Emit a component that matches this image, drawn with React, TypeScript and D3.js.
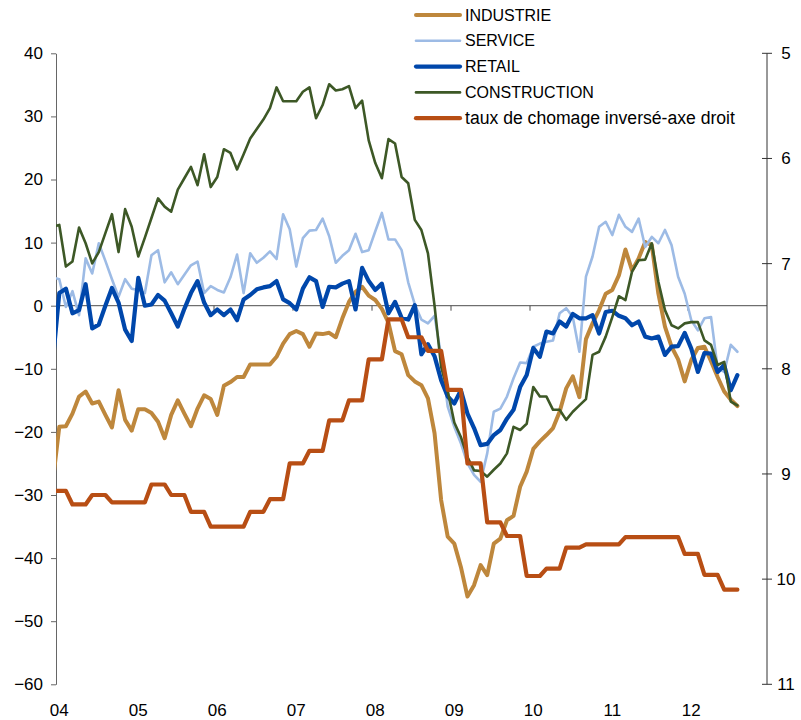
import { useEffect, useRef } from "react";
import * as d3 from "d3";

// monthly points, Dec 2003 (first, clipped at axis) to Aug 2012
const years = ["04", "05", "06", "07", "08", "09", "10", "11", "12"];

const industrie = [
  -28, -19.2, -19.1, -17.1, -14.4, -13.6, -15.5, -15.2, -17.3, -19.3, -13.4, -18.1, -19.8,
  -16.4, -16.4, -17.0, -18.4, -21.0, -17.3, -15.0, -17.1, -19.1, -16.3, -14.2, -14.8,
  -17.3, -12.7, -12.1, -11.3, -11.3, -9.3, -9.3, -9.3, -9.3, -8.1, -6.0, -4.5, -4.0,
  -4.5, -6.5, -4.4, -4.5, -4.3, -5.0, -2.0, 0.6, 2.2, 3.0, 1.6, 0.9, -0.5, -2.7, -7.2,
  -7.7, -11.0, -12.0, -12.6, -14.7, -20.2, -30.8, -36.6, -37.7, -41.4, -46.1, -44.3,
  -41.1, -42.7, -37.7, -36.9, -34.0, -33.3, -28.7, -26.3, -22.7, -21.5, -20.5, -19.4,
  -16.8, -13.1, -11.2, -14.5, -5.3, -2.8, -0.7, 1.9, 2.5, 4.8, 8.9, 5.6, 7.5, 10.1, 9.6,
  1.9, -3.3, -6.5, -8.5, -12.0, -8.6, -6.7, -6.5, -8.8, -11.3, -13.6, -14.9, -15.9,
];

const service = [
  4.5, 4.2, -0.2, 2.3, -1.5, 7.5, 5.1, 9.9, 7.1, 4.2, 1.4, 4.2, 2.7, 2.5, 2.0, 8.0, 8.8,
  3.7, 5.3, 3.4, 4.9, 6.4, 7.0, 2.0, 3.1, 2.5, 2.1, 4.5, 8.1, 2.0, 8.3, 6.8, 7.6, 8.6,
  7.4, 14.5, 12.1, 6.2, 10.7, 11.9, 12.0, 13.8, 11.0, 6.8, 7.9, 8.8, 11.4, 8.5, 8.8,
  11.8, 14.7, 10.5, 10.5, 8.8, 3.7, 0.2, -2.2, -2.8, -1.6, -8.0, -16.0, -19.2, -21.8,
  -25.0, -26.8, -27.9, -23.4, -16.8, -16.3, -14.4, -11.5, -9.0, -9.1, -6.5, -6.0, -5.7,
  -5.5, -1.2, -0.4, -1.8, -7.3, 4.6, 7.8, 12.5, 13.3, 11.2, 14.4, 12.5, 11.7, 13.8, 9.3,
  10.9, 9.9, 12.0, 9.6, 4.6, 1.9, -2.3, -3.9, -2.0, -1.8, -9.9, -10.5, -6.2, -7.3,
];

const retail = [
  -9, 2.0, 2.7, -1.2, -0.7, 3.4, -3.6, -3.0, 0.0, 2.8, 0.5, -3.8, -5.6, 4.4, 0.0, 0.2,
  1.7, 0.8, -1.2, -3.3, -0.5, 2.0, 3.9, 0.5, -1.5, -0.6, -1.5, -0.6, -2.3, 1.0, 1.7, 2.6,
  2.9, 3.1, 3.9, 1.0, 0.4, -0.6, 2.7, 4.5, 3.9, -0.2, 3.0, 2.9, 3.5, 3.9, -0.6, 6.0, 3.9,
  2.5, 3.5, -1.2, 0.6, -1.9, -2.2, 0.1, -7.7, -6.1, -8.0, -11.8, -14.4, -15.5, -13.4,
  -17.1, -19.4, -22.1, -21.9, -20.5, -19.7, -17.9, -16.5, -12.9, -11.0, -6.7, -8.1, -4.1,
  -4.4, -2.5, -3.3, -1.3, -2.0, -2.0, -1.5, -4.4, -1.0, -0.8, -1.6, -2.0, -3.1, -2.5,
  -4.9, -5.2, -4.9, -7.8, -6.5, -6.4, -4.3, -6.8, -10.5, -7.5, -7.6, -10.5, -9.4, -13.4,
  -11.0,
];

const construction = [
  12.5, 12.8, 6.2, 7.0, 12.4, 9.9, 6.7, 8.5, 11.5, 14.5, 8.5, 15.3, 12.5, 7.8, 10.8,
  13.9, 17.0, 15.7, 14.9, 18.4, 20.2, 22.0, 19.1, 24.0, 18.8, 20.4, 24.8, 24.2, 21.6,
  24.0, 26.5, 28.0, 29.5, 31.3, 34.6, 32.4, 32.4, 32.4, 33.9, 34.6, 29.7, 31.8, 35.1,
  34.1, 34.3, 34.8, 31.3, 32.5, 26.2, 22.6, 20.2, 26.4, 25.7, 20.4, 19.4, 13.6, 12.0,
  8.3, 0.0, -9.7, -13.5, -18.5, -20.8, -24.0, -26.1, -26.2, -27.1, -26.0, -25.0, -23.4,
  -19.2, -19.7, -18.7, -12.9, -14.4, -14.4, -16.5, -16.5, -18.1, -16.8, -15.8, -14.8,
  -7.8, -7.3, -4.9, -1.8, 1.5, 0.9, 5.4, 7.2, 7.3, 9.9, 3.8, -0.7, -3.1, -3.6, -2.8,
  -2.6, -2.6, -5.5, -6.2, -9.4, -8.9, -15.2, -15.8,
];

// taux de chomage (%), right axis, inverted
const chomage = [
  9.16, 9.16, 9.16, 9.29, 9.29, 9.29, 9.2, 9.2, 9.2, 9.27, 9.27, 9.27, 9.27, 9.27, 9.27,
  9.1, 9.1, 9.1, 9.2, 9.2, 9.2, 9.36, 9.36, 9.36, 9.5, 9.5, 9.5, 9.5, 9.5, 9.5, 9.36,
  9.36, 9.36, 9.24, 9.24, 9.24, 8.9, 8.9, 8.9, 8.78, 8.78, 8.78, 8.49, 8.49, 8.49, 8.3,
  8.3, 8.3, 7.91, 7.91, 7.91, 7.53, 7.53, 7.53, 7.7, 7.7, 7.7, 7.83, 7.83, 7.83, 8.2,
  8.2, 8.2, 8.9, 8.9, 8.9, 9.46, 9.46, 9.46, 9.59, 9.59, 9.59, 9.97, 9.97, 9.97, 9.9,
  9.9, 9.9, 9.7, 9.7, 9.7, 9.67, 9.67, 9.67, 9.67, 9.67, 9.67, 9.6, 9.6, 9.6, 9.6, 9.6,
  9.6, 9.6, 9.6, 9.6, 9.76, 9.76, 9.76, 9.96, 9.96, 9.96, 10.1, 10.1, 10.1,
];

const series = [
  { name: "INDUSTRIE", values: industrie, color: "#BE873C", width: 4, right: false },
  { name: "SERVICE", values: service, color: "#9DBBE5", width: 2.6, right: false },
  { name: "RETAIL", values: retail, color: "#0047AB", width: 4.2, right: false },
  { name: "CONSTRUCTION", values: construction, color: "#3D5826", width: 2.6, right: false },
  { name: "taux de chomage inversé-axe droit", values: chomage, color: "#B84E14", width: 4.2, right: true },
];

const W = 801;
const H = 720;
const FONT = "'Liberation Sans', Arial, sans-serif";

const App = () => {
  const svgRef = useRef(null);

  useEffect(() => {
    const svg = d3.select(svgRef.current);
    svg.selectAll("*").remove();

    const left = 56;
    const right = 767;
    const top = 53.3;
    const bottom = 684.3;

    // month index from Jan 2004, points sit mid-month
    const x = d3.scaleLinear().domain([0, 108]).range([left, right]);
    const yL = d3.scaleLinear().domain([-60, 40]).range([bottom, top]);
    const yR = d3.scaleLinear().domain([5, 11]).range([top, bottom]);

    svg
      .append("defs")
      .append("clipPath")
      .attr("id", "plot-clip")
      .append("rect")
      .attr("x", left)
      .attr("y", 0)
      .attr("width", right - left)
      .attr("height", H);

    // zero line + year ticks
    const y0 = yL(0);
    svg
      .append("line")
      .attr("x1", left)
      .attr("x2", right)
      .attr("y1", y0)
      .attr("y2", y0)
      .attr("stroke", "#4d4d4d")
      .attr("stroke-width", 1);

    d3.range(1, years.length).forEach((k) => {
      svg
        .append("line")
        .attr("x1", x(k * 12))
        .attr("x2", x(k * 12))
        .attr("y1", y0)
        .attr("y2", y0 + 5)
        .attr("stroke", "#4d4d4d");
    });

    // left axis
    const gL = svg
      .append("g")
      .attr("transform", `translate(${left},0)`)
      .call(
        d3
          .axisLeft(yL)
          .tickValues(d3.range(-60, 41, 10))
          .tickSize(5)
          .tickSizeOuter(0)
          .tickPadding(8)
      );
    gL.select(".domain").attr("stroke", "#666");
    gL.selectAll(".tick line").attr("stroke", "#666");
    gL.selectAll("text")
      .attr("font-size", 17)
      .attr("font-family", FONT)
      .attr("fill", "#000");

    // right axis (inverted)
    svg
      .append("line")
      .attr("x1", right)
      .attr("x2", right)
      .attr("y1", top)
      .attr("y2", bottom)
      .attr("stroke", "#333");

    d3.range(5, 12).forEach((v) => {
      svg
        .append("line")
        .attr("x1", right - 5)
        .attr("x2", right + 5)
        .attr("y1", yR(v))
        .attr("y2", yR(v))
        .attr("stroke", "#333");
      svg
        .append("text")
        .attr("x", 786)
        .attr("y", yR(v))
        .attr("dy", "0.35em")
        .attr("text-anchor", "middle")
        .attr("font-size", 17)
        .attr("font-family", FONT)
        .text(v);
    });

    // year labels
    years.forEach((yr, k) => {
      svg
        .append("text")
        .attr("x", x(k * 12 + 0.5))
        .attr("y", 716)
        .attr("text-anchor", "middle")
        .attr("font-size", 17)
        .attr("font-family", FONT)
        .text(yr);
    });

    // lines
    const plot = svg.append("g").attr("clip-path", "url(#plot-clip)");
    series.forEach((s) => {
      const yScale = s.right ? yR : yL;
      const line = d3
        .line()
        .x((d, i) => x(i - 1 + 0.5))
        .y((d) => yScale(d));
      plot
        .append("path")
        .datum(s.values)
        .attr("d", line)
        .attr("fill", "none")
        .attr("stroke", s.color)
        .attr("stroke-width", s.width)
        .attr("stroke-linejoin", "round")
        .attr("stroke-linecap", "round");
    });

    // legend
    const legend = svg.append("g");
    series.forEach((s, k) => {
      const ly = 15 + k * 25.8;
      legend
        .append("line")
        .attr("x1", 416)
        .attr("x2", 460)
        .attr("y1", ly)
        .attr("y2", ly)
        .attr("stroke", s.color)
        .attr("stroke-width", s.width)
        .attr("stroke-linecap", "round");
      legend
        .append("text")
        .attr("x", 465)
        .attr("y", ly)
        .attr("dy", "0.35em")
        .attr("font-size", s.right ? 17.6 : 16)
        .attr("font-family", FONT)
        .text(s.name);
    });
  }, []);

  return (
    <svg
      ref={svgRef}
      width={W}
      height={H}
      style={{ position: "absolute", left: 0, top: 0, background: "#fff" }}
    ></svg>
  );
};

export default App;
